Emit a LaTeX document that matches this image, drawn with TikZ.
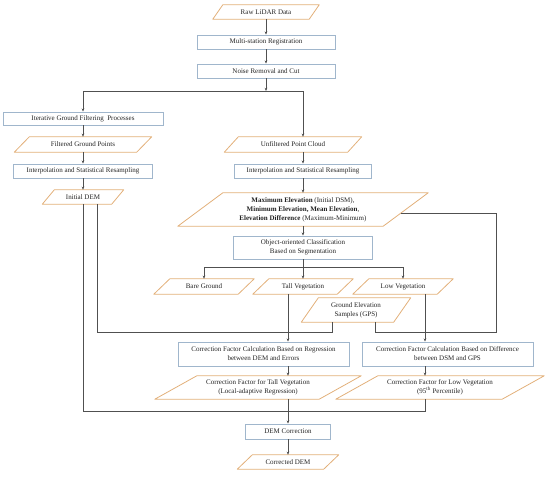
\documentclass[tikz,border=0pt]{standalone}
\usepackage{fontspec}
\setmainfont{Liberation Serif}
\usetikzlibrary{arrows.meta}

\definecolor{boxline}{RGB}{160,182,204}
\definecolor{paraline}{RGB}{226,176,122}
\definecolor{flowline}{RGB}{80,80,80}
\definecolor{flowtext}{RGB}{35,35,35}

\begin{document}
\begin{tikzpicture}[x=1pt, y=-1pt,
    >={Stealth[length=3.2pt,width=2.6pt]},
    every node/.style={font=\fontsize{7}{9}\selectfont, text=flowtext, align=center, inner sep=1pt},
    proc/.style={draw=boxline, line width=0.8pt, rectangle, minimum height=14pt},
    data/.style={rectangle, minimum height=14pt, append after command={
        \pgfextra{\draw[paraline, line width=0.8pt, line join=round]
          ([xshift=#1]\tikzlastnode.north west) -- (\tikzlastnode.north east)
          -- ([xshift=-#1]\tikzlastnode.south east) -- (\tikzlastnode.south west) -- cycle;}}},
    link/.style={draw=flowline, line width=0.7pt}]
  \useasboundingbox (0,0) rectangle (550,477);

  % Entrada y preprocesado
  \node[data=10pt, minimum width=106pt] (raw) at (266,12) {Raw LiDAR Data};
  \node[proc, minimum width=138pt] (reg) at (266,42) {Multi-station Registration};
  \node[proc, minimum width=138pt] (noise) at (266,71) {Noise Removal and Cut};
  \coordinate (split) at (266,91);

  % Rama del terreno
  \node[proc, minimum width=160pt, minimum height=13pt] (iter) at (83,118.5) {Iterative Ground Filtering\ \ Processes};
  \node[data=15pt, minimum width=137pt, minimum height=15pt] (filt) at (83,144.5) {Filtered Ground Points};
  \node[proc, minimum width=139pt] (interpL) at (83,171) {Interpolation and Statistical Resampling};
  \node[data=12pt, minimum width=81pt] (dem) at (83,197) {Initial DEM};

  % Rama de la nube sin filtrar
  \node[data=14pt, minimum width=137pt, minimum height=15pt] (unf) at (293,144.5) {Unfiltered Point Cloud};
  \node[proc, minimum width=137pt] (interpR) at (303,171) {Interpolation and Statistical Resampling};
  \node[data=45pt, minimum width=250pt, minimum height=33pt] (stats) at (303,209.5)
    {\textbf{Maximum Elevation} (Initial DSM),\\
     \textbf{Minimum Elevation, Mean Elevation},\\
     \textbf{Elevation Difference} (Maximum-Minimum)};
  \node[proc, minimum width=139pt, minimum height=23pt] (obj) at (303,247.5)
    {Object-oriented Classification\\Based on Segmentation};
  \coordinate (split2) at (303,267);

  % Clases
  \node[data=16pt, minimum width=100pt, minimum height=15pt] (bare) at (204,286.5) {Bare Ground};
  \node[data=16pt, minimum width=100pt, minimum height=15pt] (tall) at (303,286.5) {Tall Vegetation};
  \node[data=16pt, minimum width=100pt, minimum height=15pt] (low) at (403,286.5) {Low Vegetation};
  \node[data=17pt, minimum width=109pt, minimum height=24pt] (gps) at (356,310) {Ground Elevation\\Samples (GPS)};

  % Factores de correccion
  \node[proc, minimum width=171pt, minimum height=24pt] (corrT) at (263.5,354)
    {Correction Factor Calculation Based on Regression\\between DEM and Errors};
  \node[proc, minimum width=171pt, minimum height=24pt] (corrL) at (447.5,354)
    {Correction Factor Calculation Based on Difference\\between DSM and GPS};
  \node[data=42pt, minimum width=206pt, minimum height=23pt] (factT) at (258,387.5)
    {Correction Factor for Tall Vegetation\\(Local-adaptive Regression)};
  \node[data=42pt, minimum width=208pt, minimum height=23pt] (factL) at (440,387.5)
    {Correction Factor for Low Vegetation\\(95\textsuperscript{th} Percentile)};

  % Salida
  \node[proc, minimum width=85pt, minimum height=15pt] (fix) at (288,431.5) {DEM Correction};
  \node[data=15pt, minimum width=101pt] (final) at (288,462) {Corrected DEM};

  % Columnas y esquinas de las conexiones
  \coordinate (colT) at (288,0);
  \coordinate (colL) at (425,0);
  \coordinate (colD) at (97,0);
  \coordinate (gpsA) at (332,332);
  \coordinate (gpsB) at (375,0);
  \coordinate (edgeR) at (496,332);
  \coordinate (back) at (83,411);
  \coordinate (statsR) at ([xshift=-27pt,yshift=-3.5pt]stats.east);

  % Flechas
  \draw[link,->] (raw) -- (reg);
  \draw[link,->] (reg) -- (noise);
  \draw[link,->] (noise) -- (split);
  \draw[link,->] (split) -| (iter);
  \draw[link,->] (split) -| (unf.north -| interpR);
  \draw[link,->] (iter) -- (filt);
  \draw[link,->] (filt) -- (interpL);
  \draw[link,->] (interpL) -- (dem);
  \draw[link,->] (unf.south -| interpR) -- (interpR);
  \draw[link,->] (interpR) -- (stats);
  \draw[link,->] (stats) -- (obj);
  \draw[link] (obj) -- (split2);
  \foreach \cls in {bare,tall,low} {
      \draw[link,->] (split2) -| (\cls);
  }
  \draw[link,->] (tall.south -| colT) -- (corrT.north -| colT);
  \draw[link,->] (low.south -| colL) -- (corrL.north -| colL);
  \draw[link] (dem.south -| colD) |- (gpsA) -- (gps.south -| gpsA);
  \draw[link] (gps.south -| gpsB) |- (edgeR) |- (statsR);
  \draw[link,->] (corrT.south -| colT) -- (factT.north -| colT);
  \draw[link,->] (corrL.south -| colL) -- (factL.north -| colL);
  \draw[link,->] (factT.south -| fix) -- (fix);
  \draw[link] (factL.south -| colL) |- (back) -- (dem.south);
  \draw[link,->] (fix) -- (final);
\end{tikzpicture}
\end{document}
